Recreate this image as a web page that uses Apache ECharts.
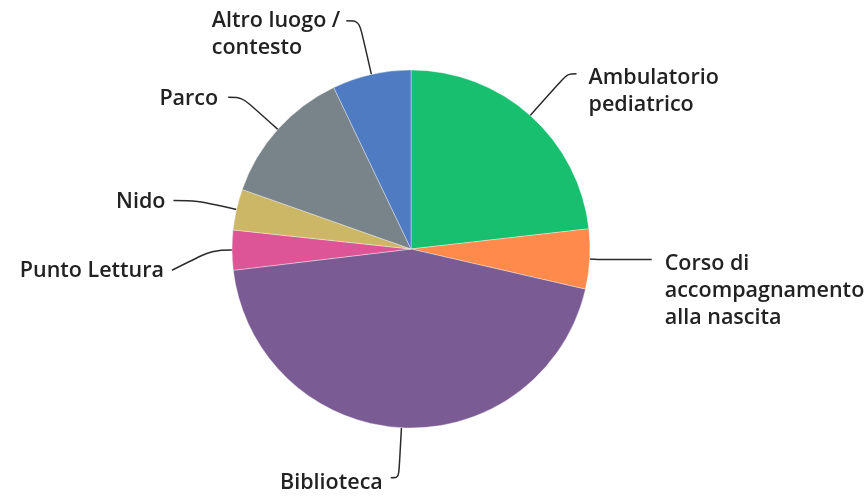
<!DOCTYPE html>
<html>
<head>
<meta charset="utf-8">
<style>
  html, body { margin: 0; padding: 0; background: #ffffff; }
  #chart { width: 868px; height: 496px; }
</style>
<script src="https://cdn.jsdelivr.net/npm/echarts@6/dist/echarts.min.js"></script>
</head>
<body>
<div id="chart"></div>
<script>
// ---- data ----
const categories = [
  'Ambulatorio\npediatrico',
  'Corso di\naccompagnamento\nalla nascita',
  'Biblioteca',
  'Punto Lettura',
  'Nido',
  'Parco',
  'Altro luogo /\ncontesto'
];
const values = [23.2, 5.4, 44.5, 3.6, 3.7, 12.5, 7.1];

// ---- styles ----
const colors = ['#18BF6E', '#FF8A4B', '#7A5B94', '#DD5596', '#CCB767', '#79838A', '#4E7BC1'];
const lineLen1 = [56, 8, 50, 20, 40, 48, 55];
const lineLen2 = [9, 54, 8, 40, 24, 14, 13];
const labelGap = [12, 13, 8, 8, 8, 10, 6];
const lineDrop = [0, 0, 0, 20, 0, 0, 0];
const textNudge = [4, 4, 5, 1, 1, 2, 0];
const FONT = 21.5, LH = 27;

const data = categories.map((name, i) => ({
  name: name,
  value: values[i],
  itemStyle: { color: colors[i] },
  label: { distanceToLabelLine: labelGap[i] },
  labelLine: { length: lineLen1[i], length2: lineLen2[i] }
}));

const chart = echarts.init(document.getElementById('chart'), null, { renderer: 'canvas' });
chart.setOption({
  animation: false,
  backgroundColor: '#ffffff',
  series: [{
    type: 'pie',
    center: [411, 249],
    radius: 179,
    startAngle: 90,
    clockwise: true,
    avoidLabelOverlap: false,
    itemStyle: { borderColor: 'rgba(255,255,255,0.6)', borderWidth: 0.6 },
    label: {
      show: true,
      position: 'outside',
      formatter: function (p) {
        return p.name.split('\n').map(s => '{t|' + s + '}').join('\n');
      },
      rich: {
        t: {
          align: 'left',
          fontFamily: 'Open Sans',
          fontWeight: 600,
          fontSize: FONT,
          lineHeight: LH,
          color: '#222222'
        }
      }
    },
    labelLine: {
      show: true,
      smooth: 0.35,
      lineStyle: { color: '#2a2a2a', width: 1.5 }
    },
    labelLayout: function (p) {
      const i = p.dataIndex;
      const n = categories[i].split('\n').length;
      const res = {};
      const dy = (n - 1) * LH / 2 + lineDrop[i] + textNudge[i];
      res.y = p.labelRect.y + p.labelRect.height / 2 + dy;
      if (p.labelLinePoints) {
        const pts = p.labelLinePoints.map(q => q.slice());
        pts[2][1] += lineDrop[i];
        res.labelLinePoints = pts;
      }
      return res;
    },
    data: data
  }]
});
</script>
</body>
</html>
